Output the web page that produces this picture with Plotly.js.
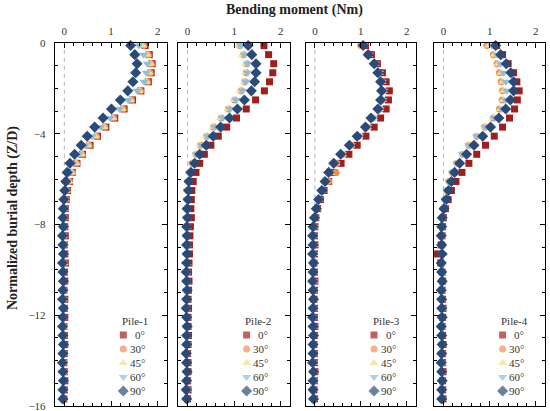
<!DOCTYPE html>
<html>
<head>
<meta charset="utf-8">
<script src="https://cdn.plot.ly/plotly-3.0.1.min.js"></script>
<style>html,body{margin:0;padding:0;background:#fff;}#chart{width:550px;height:411px;}</style>
</head>
<body>
<div id="chart"></div>
<script>
// ---------------- data ----------------
const depth = [-0.1,-0.5,-0.9,-1.3,-1.7,-2.1,-2.5,-2.9,-3.3,-3.7,-4.1,-4.5,-4.9,-5.3,-5.7,-6.1,-6.5,-6.9,-7.3,-7.7,-8.1,-8.5,-8.9,-9.3,-9.7,-10.1,-10.5,-10.9,-11.3,-11.7,-12.1,-12.5,-12.9,-13.3,-13.7,-14.1,-14.5,-14.9,-15.3,-15.7,-16.1];
const angles = ["0°","30°","45°","60°","90°"];
const pileNames = ["Pile-1","Pile-2","Pile-3","Pile-4"];
const xTickVals = [0,1,2];
const xTickText = ["0","1","2"];
const yTickVals = [0,-4,-8,-12,-16];
const yTickText = ["0","\u22124","\u22128","\u221212","\u221216"];

const pile1_0  = [1.73,1.82,1.88,1.86,1.80,1.64,1.46,1.28,1.08,0.89,0.71,0.55,0.39,0.27,0.17,0.11,0.07,0.04,0.02,0.02,0.01,0.02,0.00,0.01,0.02,0.00,0.01,-0.01,0.01,0.00,0.01,-0.01,0.00,0.01,0.00,-0.01,0.00,0.01,0.00,-0.01,0.00];
const pile1_30 = [1.70,1.80,1.86,1.84,1.78,1.63,1.44,1.26,1.06,0.87,0.69,0.53,0.38,0.26,0.17,0.11,0.06,0.03,0.01,0.00,0.00,-0.01,0.00,-0.01,0.00,-0.02,-0.01,0.00,-0.01,-0.02,-0.01,0.00,-0.01,-0.02,-0.01,-0.01,0.00,-0.01,-0.02,-0.01,-0.01];
const pile1_45 = [1.68,1.78,1.85,1.82,1.76,1.61,1.42,1.24,1.04,0.85,0.67,0.51,0.37,0.25,0.16,0.10,0.05,0.02,0.00,-0.01,-0.01,-0.02,-0.01,-0.02,-0.01,-0.02,-0.01,-0.02,-0.02,-0.01,-0.02,-0.01,-0.02,-0.02,-0.01,-0.02,-0.01,-0.02,-0.01,-0.02,-0.01];
const pile1_60 = [1.60,1.70,1.78,1.76,1.71,1.56,1.37,1.18,0.98,0.78,0.60,0.45,0.31,0.20,0.12,0.06,0.02,0.00,-0.02,-0.02,-0.03,-0.02,-0.03,-0.02,-0.03,-0.03,-0.02,-0.03,-0.02,-0.03,-0.03,-0.02,-0.03,-0.02,-0.03,-0.02,-0.03,-0.03,-0.02,-0.03,-0.02];
const pile1_90 = [1.42,1.51,1.56,1.53,1.47,1.36,1.20,1.01,0.83,0.65,0.49,0.36,0.22,0.12,0.06,0.03,0.01,-0.01,-0.02,-0.03,-0.02,-0.04,-0.03,-0.02,-0.04,-0.03,-0.02,-0.03,-0.04,-0.02,-0.03,-0.04,-0.03,-0.02,-0.03,-0.04,-0.03,-0.02,-0.03,-0.03,-0.02];

const pile2_0  = [1.64,1.74,1.85,1.83,1.76,1.65,1.46,1.26,1.05,0.84,0.66,0.50,0.36,0.26,0.18,0.12,0.09,0.08,0.07,0.08,0.06,0.05,0.04,0.04,0.03,0.02,0.03,0.02,0.01,0.02,0.01,0.01,0.02,0.01,0.00,0.01,0.01,0.00,0.01,0.00,0.01];
const pile2_30 = [1.12,1.20,1.27,1.26,1.23,1.15,1.01,0.88,0.72,0.56,0.41,0.28,0.18,0.10,0.05,0.02,0.00,-0.01,-0.01,-0.02,-0.01,-0.02,-0.01,-0.02,-0.02,-0.01,-0.02,-0.01,-0.02,-0.01,-0.02,-0.02,-0.01,-0.02,-0.01,-0.02,-0.01,-0.02,-0.01,-0.02,-0.01];
const pile2_45 = [1.10,1.18,1.25,1.25,1.22,1.14,1.00,0.87,0.71,0.55,0.40,0.27,0.17,0.09,0.04,0.01,-0.01,-0.01,-0.02,-0.01,-0.02,-0.02,-0.01,-0.02,-0.01,-0.02,-0.02,-0.01,-0.02,-0.02,-0.01,-0.02,-0.01,-0.02,-0.02,-0.01,-0.02,-0.01,-0.02,-0.02,-0.01];
const pile2_60 = [1.14,1.22,1.29,1.28,1.25,1.18,1.04,0.91,0.75,0.58,0.43,0.30,0.19,0.10,0.04,0.01,-0.01,-0.02,-0.02,-0.03,-0.02,-0.03,-0.02,-0.02,-0.03,-0.02,-0.03,-0.02,-0.02,-0.03,-0.02,-0.03,-0.02,-0.02,-0.03,-0.02,-0.03,-0.02,-0.02,-0.03,-0.02];
const pile2_90 = [1.30,1.38,1.47,1.47,1.44,1.37,1.22,1.07,0.90,0.71,0.55,0.40,0.26,0.15,0.07,0.03,0.02,0.01,-0.01,0.00,-0.02,-0.01,-0.02,-0.01,-0.02,-0.03,-0.02,-0.01,-0.02,-0.03,-0.02,-0.01,-0.02,-0.02,-0.03,-0.02,-0.01,-0.02,-0.03,-0.02,-0.02];

const pile3_0  = [1.10,1.23,1.36,1.47,1.55,1.62,1.60,1.55,1.43,1.29,1.11,0.92,0.74,0.57,0.42,0.30,0.20,0.12,0.06,0.02,0.00,-0.01,0.00,-0.01,-0.02,-0.01,0.00,-0.01,-0.02,-0.01,-0.01,0.00,-0.01,-0.02,-0.01,-0.01,0.00,-0.01,-0.02,-0.01,-0.01];
const pile3_30 = [1.00,1.14,1.29,1.38,1.45,1.48,1.46,1.40,1.26,1.13,0.95,0.78,0.60,0.47,0.46,0.30,0.16,0.09,0.04,0.00,-0.02,-0.03,-0.02,-0.03,-0.02,-0.03,-0.03,-0.02,-0.03,-0.02,-0.03,-0.03,-0.02,-0.03,-0.02,-0.03,-0.03,-0.02,-0.03,-0.02,-0.03];
const pile3_45 = [1.04,1.17,1.31,1.40,1.46,1.49,1.47,1.41,1.27,1.14,0.96,0.78,0.60,0.45,0.33,0.24,0.16,0.09,0.04,0.00,-0.02,-0.03,-0.03,-0.02,-0.03,-0.03,-0.02,-0.03,-0.03,-0.02,-0.03,-0.03,-0.02,-0.03,-0.03,-0.02,-0.03,-0.03,-0.02,-0.03,-0.03];
const pile3_60 = [1.07,1.19,1.32,1.41,1.47,1.50,1.48,1.42,1.28,1.15,0.97,0.79,0.60,0.45,0.33,0.24,0.16,0.09,0.04,0.00,-0.02,-0.03,-0.03,-0.02,-0.03,-0.03,-0.02,-0.03,-0.03,-0.02,-0.03,-0.03,-0.02,-0.03,-0.03,-0.02,-0.03,-0.03,-0.02,-0.03,-0.03];
const pile3_90 = [1.05,1.16,1.29,1.37,1.43,1.45,1.43,1.37,1.22,1.10,0.92,0.75,0.56,0.41,0.30,0.22,0.15,0.08,0.03,-0.01,-0.04,-0.05,-0.04,-0.05,-0.03,-0.04,-0.05,-0.04,-0.03,-0.04,-0.05,-0.04,-0.03,-0.04,-0.04,-0.05,-0.03,-0.04,-0.04,-0.03,-0.03];

const pile4_0  = [1.15,1.28,1.40,1.52,1.59,1.64,1.60,1.54,1.43,1.28,1.10,0.91,0.72,0.55,0.40,0.27,0.17,0.10,0.04,0.00,-0.02,-0.03,-0.05,-0.13,-0.06,-0.03,-0.02,-0.03,-0.02,-0.01,-0.02,-0.03,-0.02,-0.01,-0.02,-0.02,-0.01,-0.02,-0.02,-0.01,-0.02];
const pile4_30 = [0.94,1.08,1.16,1.21,1.25,1.28,1.27,1.21,1.08,0.90,0.72,0.55,0.41,0.29,0.19,0.12,0.07,0.03,0.00,-0.02,-0.03,-0.03,-0.02,-0.03,-0.03,-0.02,-0.03,-0.03,-0.02,-0.03,-0.03,-0.02,-0.03,-0.03,-0.02,-0.03,-0.03,-0.02,-0.03,-0.03,-0.02];
const pile4_45 = [0.98,1.10,1.18,1.24,1.28,1.30,1.29,1.23,1.09,0.90,0.72,0.55,0.41,0.29,0.19,0.12,0.07,0.03,0.00,-0.02,-0.03,-0.03,-0.03,-0.02,-0.03,-0.03,-0.02,-0.03,-0.03,-0.02,-0.03,-0.03,-0.02,-0.03,-0.03,-0.02,-0.03,-0.03,-0.02,-0.03,-0.03];
const pile4_60 = [1.05,1.16,1.24,1.30,1.35,1.37,1.34,1.26,1.10,0.90,0.72,0.55,0.41,0.29,0.19,0.12,0.07,0.03,0.00,-0.02,-0.03,-0.03,-0.04,-0.03,-0.03,-0.04,-0.03,-0.03,-0.04,-0.03,-0.03,-0.04,-0.03,-0.03,-0.04,-0.03,-0.03,-0.04,-0.03,-0.03,-0.04];
const pile4_90 = [1.13,1.24,1.36,1.46,1.52,1.52,1.45,1.35,1.20,1.02,0.85,0.66,0.50,0.35,0.24,0.17,0.11,0.06,0.01,-0.03,-0.04,-0.05,-0.04,-0.03,-0.05,-0.04,-0.03,-0.05,-0.04,-0.04,-0.03,-0.05,-0.04,-0.03,-0.04,-0.05,-0.04,-0.03,-0.04,-0.04,-0.03];

const piles = [
  [pile1_0, pile1_30, pile1_45, pile1_60, pile1_90],
  [pile2_0, pile2_30, pile2_45, pile2_60, pile2_90],
  [pile3_0, pile3_30, pile3_45, pile3_60, pile3_90],
  [pile4_0, pile4_30, pile4_45, pile4_60, pile4_90]
];
const legendRows = [1,2,3,4,5];

// ---------------- style ----------------
const symbols = ["square","circle","triangle-up","triangle-down","diamond"];
const colors  = ["#a01f1c","#f28d55","#fcd98a","#8dbedd","#2a4b7a"];
const sizes   = [7,7,8,8,8.5];
const FONT = "'Liberation Serif', 'Times New Roman', Times, serif";

const W = 550, H = 411;
const px = v => v / W;
const py = v => 1 - v / H;
const panelL = [55, 178.3, 305.7, 434.3];
const panelR = [167, 290, 416, 545];
const plotTop = 43.3, plotBot = 405.7;

const traces = [];
const layout = {
  width: W, height: H,
  margin: {l:0, r:0, t:0, b:0},
  paper_bgcolor: "#fff", plot_bgcolor: "#fff",
  showlegend: false,
  font: {family: FONT, color: "#222", size: 11},
  shapes: [], annotations: []
};

for (let p = 0; p < 4; p++) {
  const n = p + 1;
  const xa = "xaxis" + (n === 1 ? "" : n);
  const ya = "yaxis" + (n === 1 ? "" : n);
  const xr = "x" + (n === 1 ? "" : n);
  const yr = "y" + (n === 1 ? "" : n);
  layout[xa] = {
    domain: [px(panelL[p]), px(panelR[p])], anchor: yr,
    range: [-0.2, 2.2], side: "top",
    tickmode: "array", tickvals: xTickVals, ticktext: xTickText,
    ticks: "inside", ticklen: 5, tickwidth: 1, tickcolor: "#000",
    minor: {dtick: 0.2, tick0: 0, ticks: "inside", ticklen: 3, tickwidth: 1, tickcolor: "#000"},
    showline: true, linecolor: "#000", linewidth: 1.2, mirror: "ticks",
    showgrid: false, zeroline: false,
    tickfont: {family: FONT, size: 11, color: "#333"}, ticklabelstandoff: 3,
    ticklabeloverflow: "allow",
    fixedrange: true
  };
  layout[ya] = {
    domain: [py(plotBot), py(plotTop)], anchor: xr,
    range: [-16, 0],
    tickmode: "array", tickvals: yTickVals, ticktext: yTickText,
    showticklabels: n === 1,
    ticks: "inside", ticklen: 5, tickwidth: 1, tickcolor: "#000",
    minor: {dtick: 1, tick0: 0, ticks: "inside", ticklen: 3, tickwidth: 1, tickcolor: "#000"},
    showline: true, linecolor: "#000", linewidth: 1.2, mirror: "ticks",
    showgrid: false, zeroline: false,
    tickfont: {family: FONT, size: 11, color: "#333"}, ticklabelstandoff: 6,
    ticklabeloverflow: "allow",
    fixedrange: true
  };
  layout.shapes.push({
    type: "line", xref: xr, yref: yr + " domain",
    x0: 0, x1: 0, y0: 0, y1: 0.985, layer: "below",
    line: {color: "#b0b0b0", width: 1, dash: "4px,4px"}
  });
  piles[p].forEach((vals, s) => {
    traces.push({
      type: "scatter", mode: "markers", name: angles[s],
      x: vals, y: depth, xaxis: xr, yaxis: yr, cliponaxis: false,
      marker: {symbol: symbols[s], color: colors[s], size: sizes[s], line: {width: 0}},
      hoverinfo: "skip"
    });
  });

  // legend block (its own small axes)
  const ln = n + 4;
  const lxa = "xaxis" + ln, lya = "yaxis" + ln;
  const lxr = "x" + ln, lyr = "y" + ln;
  const lx0 = panelL[p] + 63;
  layout[lxa] = {domain: [px(lx0), px(lx0 + 40)], range: [0, 40], visible: false, anchor: lyr, fixedrange: true};
  layout[lya] = {domain: [py(398), py(314)], range: [5.5, -0.5], visible: false, anchor: lxr, fixedrange: true};
  traces.push({
    type: "scatter", mode: "markers", xaxis: lxr, yaxis: lyr, cliponaxis: false,
    x: legendRows.map(() => 5.3), y: legendRows,
    marker: {symbol: symbols, color: colors, size: sizes, line: {width: 0}},
    hoverinfo: "skip", showlegend: false
  });
  layout.annotations.push({
    xref: lxr, yref: lyr, x: 2, y: 0, xanchor: "left", yanchor: "middle",
    text: pileNames[p], showarrow: false,
    font: {family: FONT, size: 11, color: "#333"}
  });
  angles.forEach((a, i) => {
    layout.annotations.push({
      xref: lxr, yref: lyr, x: 29, y: legendRows[i], xanchor: "right", yanchor: "middle",
      text: a, showarrow: false,
      font: {family: FONT, size: 11, color: "#333"}
    });
  });
}

layout.annotations.push({
  xref: "paper", yref: "paper", x: px(294), y: py(10), xanchor: "center", yanchor: "middle",
  text: "<b>Bending moment (Nm)</b>", showarrow: false,
  font: {family: FONT, size: 14, color: "#222"}
});
layout.annotations.push({
  xref: "paper", yref: "paper", x: px(13), y: py(218), xanchor: "center", yanchor: "middle",
  text: "<b>Normalized burial depth (Z/D)</b>", showarrow: false, textangle: -90,
  font: {family: FONT, size: 14, color: "#222"}
});

Plotly.newPlot("chart", traces, layout, {displayModeBar: false, staticPlot: true});
</script>
</body>
</html>
